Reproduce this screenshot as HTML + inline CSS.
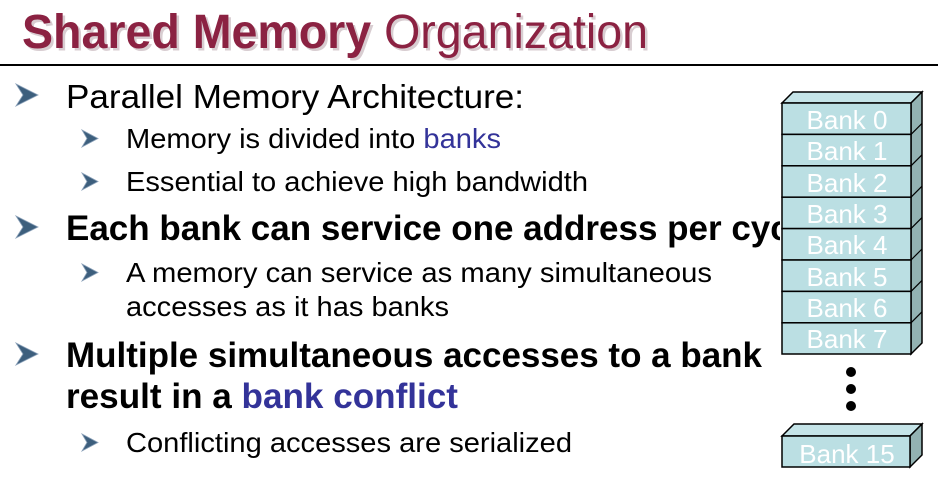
<!DOCTYPE html>
<html><head><style>
html,body{margin:0;padding:0;background:#fff;}
svg{display:block;font-family:"Liberation Sans",Arial,sans-serif;}
</style></head><body>
<svg width="938" height="481" viewBox="0 0 938 481" xmlns="http://www.w3.org/2000/svg">
<defs>
<g id="ar1"><polygon points="0,0 22,11 0,22 7,11" fill="#3d5f7d" stroke="#8aa0b8" stroke-width="0.8"/></g>
<g id="ar2"><polygon points="0,0 16,8.5 0,17 5,8.5" fill="#3d5f7d" stroke="#8aa0b8" stroke-width="0.8"/></g>
</defs>
<!-- title -->
<text x="24.5" y="50.5" font-size="48" fill="#d8cdd1" textLength="626" lengthAdjust="spacingAndGlyphs"><tspan font-weight="bold">Shared Memory</tspan> Organization</text>
<text x="22" y="48" font-size="48" fill="#8b2242" textLength="626" lengthAdjust="spacingAndGlyphs"><tspan font-weight="bold">Shared Memory</tspan> Organization</text>
<line x1="0" y1="65" x2="938" y2="65" stroke="#000" stroke-width="2"/>

<use href="#ar1" x="16" y="84"/>
<text x="66" y="108" font-size="33" textLength="458" lengthAdjust="spacingAndGlyphs">Parallel Memory Architecture:</text>
<use href="#ar2" x="82" y="130"/>
<text x="126" y="148" font-size="28" textLength="375" lengthAdjust="spacingAndGlyphs">Memory is divided into <tspan fill="#333399">banks</tspan></text>
<use href="#ar2" x="82" y="173"/>
<text x="126" y="191" font-size="28" textLength="462" lengthAdjust="spacingAndGlyphs">Essential to achieve high bandwidth</text>
<use href="#ar1" x="16" y="216"/>
<text x="66" y="240" font-size="35" font-weight="bold">Each bank can service one address per cycle</text>
<use href="#ar2" x="82" y="264"/>
<text x="126" y="282" font-size="28" textLength="586" lengthAdjust="spacingAndGlyphs">A memory can service as many simultaneous</text>
<text x="126" y="316" font-size="28" textLength="323" lengthAdjust="spacingAndGlyphs">accesses as it has banks</text>
<use href="#ar1" x="16" y="343"/>
<text x="66" y="367" font-size="35" font-weight="bold" textLength="696" lengthAdjust="spacingAndGlyphs">Multiple simultaneous accesses to a bank</text>
<text x="66" y="408" font-size="35" font-weight="bold" textLength="392" lengthAdjust="spacingAndGlyphs">result in a <tspan fill="#333399">bank conflict</tspan></text>
<use href="#ar2" x="82" y="434"/>
<text x="126" y="452" font-size="28" textLength="446" lengthAdjust="spacingAndGlyphs">Conflicting accesses are serialized</text>

<!-- bank stack -->
<rect x="780" y="80" width="158" height="290" fill="#fff"/>
<polygon points="782,103 793,92 922,92 911,103" fill="#c5e4e8" stroke="#000" stroke-width="1.5"/>
<polygon points="911,103 922,92 922,343 911,354" fill="#93b2b2" stroke="#000" stroke-width="1.5"/>
<g stroke="#000" stroke-width="1.5" fill="#bbdfe3">
<rect x="782" y="103" width="129" height="31.4"/>
<rect x="782" y="134.4" width="129" height="31.4"/>
<rect x="782" y="165.8" width="129" height="31.4"/>
<rect x="782" y="197.2" width="129" height="31.4"/>
<rect x="782" y="228.6" width="129" height="31.4"/>
<rect x="782" y="260" width="129" height="31.4"/>
<rect x="782" y="291.4" width="129" height="31.4"/>
<rect x="782" y="322.8" width="129" height="31.2"/>
</g>
<g stroke="#000" stroke-width="1.2">
<line x1="911" y1="134.4" x2="922" y2="123.4"/><line x1="911" y1="165.8" x2="922" y2="154.8"/>
<line x1="911" y1="197.2" x2="922" y2="186.2"/><line x1="911" y1="228.6" x2="922" y2="217.6"/>
<line x1="911" y1="260" x2="922" y2="249"/><line x1="911" y1="291.4" x2="922" y2="280.4"/>
<line x1="911" y1="322.8" x2="922" y2="311.8"/>
</g>
<g fill="#fff" font-size="26" text-anchor="middle">
<text x="847" y="129">Bank 0</text><text x="847" y="160">Bank 1</text>
<text x="847" y="192">Bank 2</text><text x="847" y="223">Bank 3</text>
<text x="847" y="254">Bank 4</text><text x="847" y="286">Bank 5</text>
<text x="847" y="317">Bank 6</text><text x="847" y="348">Bank 7</text>
</g>
<circle cx="851" cy="372" r="5"/><circle cx="851" cy="389" r="5"/><circle cx="851" cy="406" r="5"/>
<polygon points="782,436 794,424 922,424 910,436" fill="#c5e4e8" stroke="#000" stroke-width="1.5"/>
<polygon points="910,436 922,424 922,455 910,467" fill="#93b2b2" stroke="#000" stroke-width="1.5"/>
<rect x="782" y="436" width="128" height="31" fill="#bbdfe3" stroke="#000" stroke-width="1.5"/>
<text x="847" y="463" fill="#fff" font-size="26" text-anchor="middle">Bank 15</text>
</svg>
</body></html>
